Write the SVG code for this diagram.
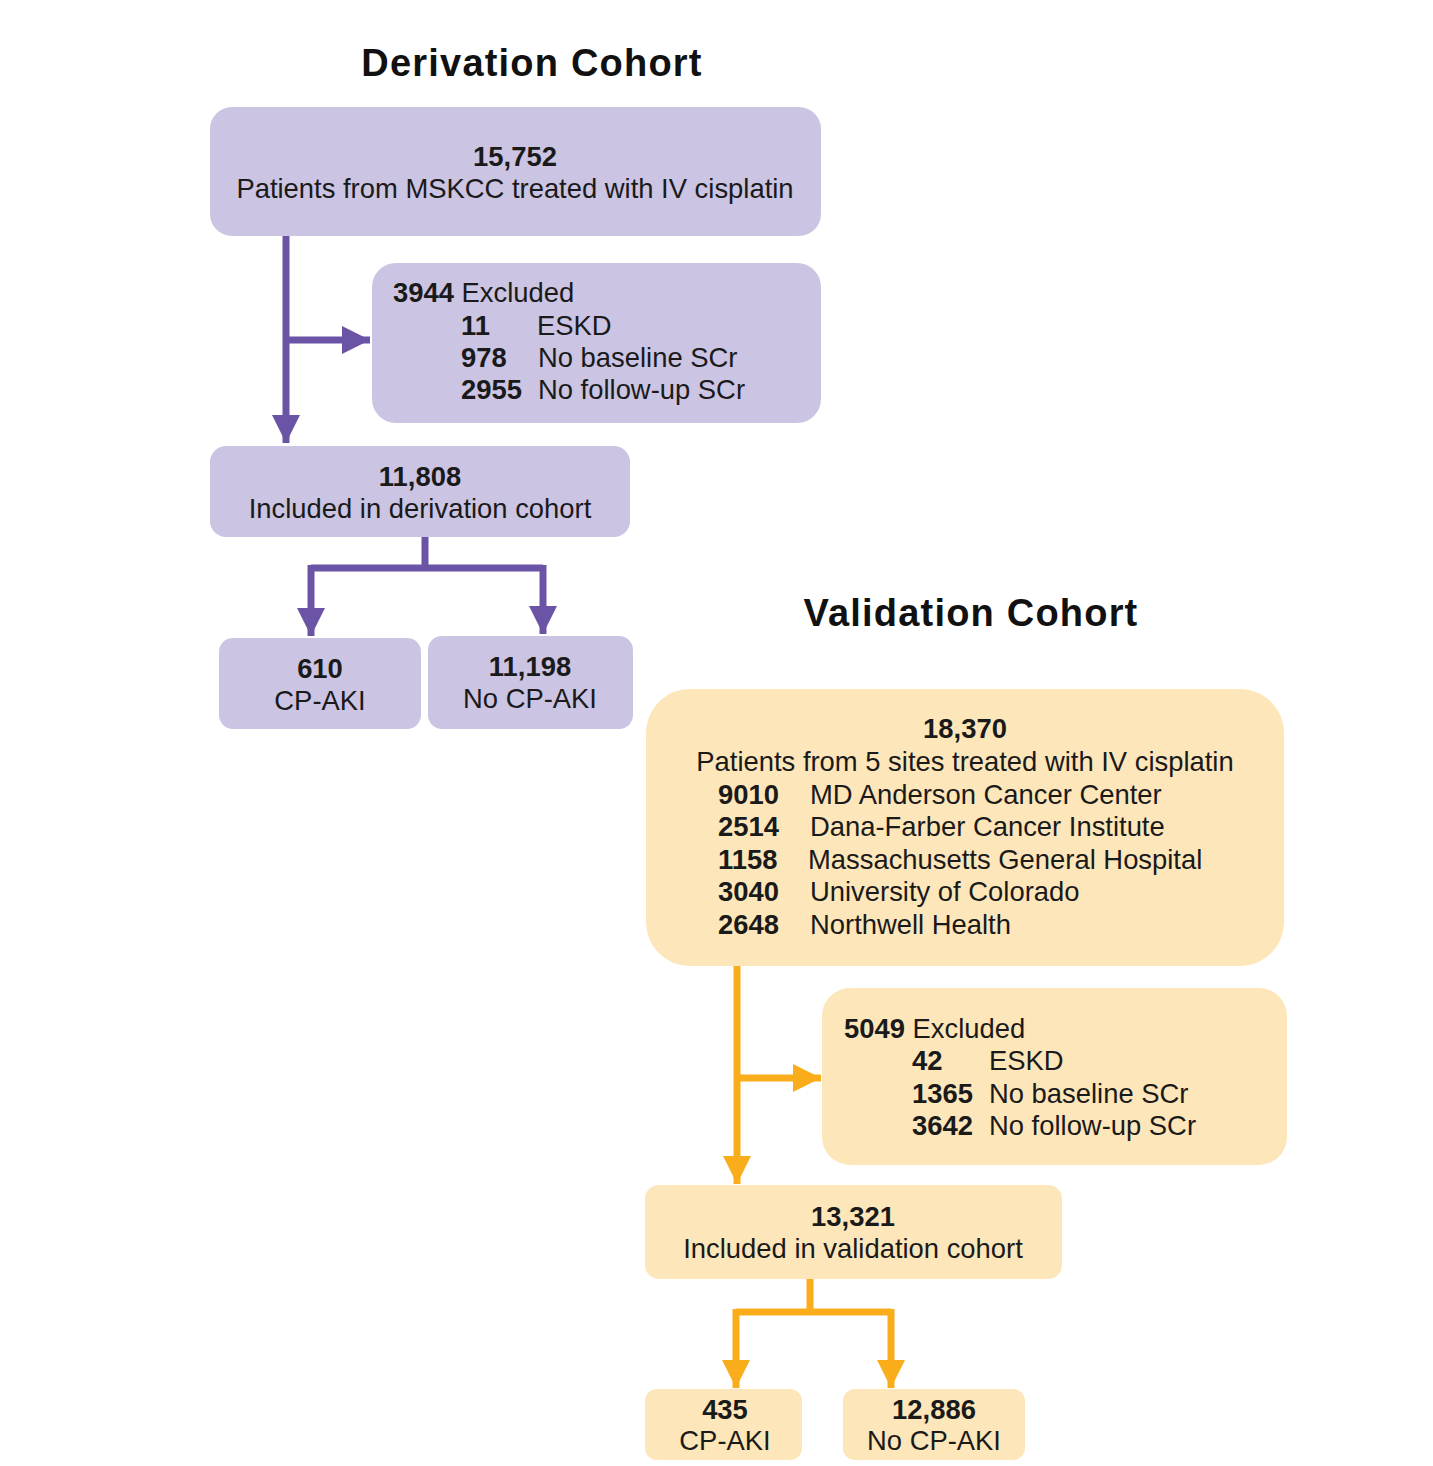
<svg xmlns="http://www.w3.org/2000/svg" width="1433" height="1466" viewBox="0 0 1433 1466">
<defs>
<style>
.t{font-family:"Liberation Sans",Arial,sans-serif;font-size:27.4px;fill:#1a1a1a}
.b{font-weight:bold}
.c{text-anchor:middle}
.h{font-family:"Liberation Sans",Arial,sans-serif;font-size:38px;font-weight:bold;fill:#111;text-anchor:middle;letter-spacing:1.2px}
.p{fill:#cbc4e3}
.o{fill:#fde6b9}
.lp{stroke:#6b54a5;stroke-width:7;fill:none}
.lo{stroke:#f9ad1b;stroke-width:7;fill:none}
</style>
<marker id="ap" viewBox="0 0 10 10" refX="10" refY="5" markerWidth="4" markerHeight="4" orient="auto" markerUnits="strokeWidth"><path d="M0,0 L10,5 L0,10 z" fill="#6b54a5"/></marker>
<marker id="ao" viewBox="0 0 10 10" refX="10" refY="5" markerWidth="4" markerHeight="4" orient="auto" markerUnits="strokeWidth"><path d="M0,0 L10,5 L0,10 z" fill="#f9ad1b"/></marker>
</defs>
<rect width="1433" height="1466" fill="#fff"/>
<text class="h" x="532" y="76">Derivation Cohort</text>
<text class="h" x="971" y="626">Validation Cohort</text>

<g id="connectors">
<path class="lp" d="M286,236 V443" marker-end="url(#ap)"/>
<path class="lp" d="M286,340 H370" marker-end="url(#ap)"/>
<path class="lp" d="M425,537 V568 M311,568 H543"/>
<path class="lp" d="M311,565 V636" marker-end="url(#ap)"/>
<path class="lp" d="M543,565 V634" marker-end="url(#ap)"/>
<path class="lo" d="M737,966 V1184" marker-end="url(#ao)"/>
<path class="lo" d="M737,1078 H821" marker-end="url(#ao)"/>
<path class="lo" d="M810,1279 V1312 M736,1312 H891"/>
<path class="lo" d="M736,1309 V1388" marker-end="url(#ao)"/>
<path class="lo" d="M891,1309 V1388" marker-end="url(#ao)"/>
</g>

<g id="d1"><rect class="p" x="210" y="107" width="611" height="129" rx="22"/>
<text class="t b c" x="515" y="166">15,752</text>
<text class="t c" x="515" y="198">Patients from MSKCC treated with IV cisplatin</text></g>

<g id="d2"><rect class="p" x="372" y="263" width="449" height="160" rx="24"/>
<text class="t" x="393" y="302"><tspan class="b">3944</tspan> Excluded</text>
<text class="t b" x="461" y="335">11</text><text class="t" x="537" y="335">ESKD</text>
<text class="t b" x="461" y="367">978</text><text class="t" x="538" y="367">No baseline SCr</text>
<text class="t b" x="461" y="399">2955</text><text class="t" x="538" y="399">No follow-up SCr</text></g>

<g id="d3"><rect class="p" x="210" y="446" width="420" height="91" rx="16"/>
<text class="t b c" x="420" y="486">11,808</text>
<text class="t c" x="420" y="518">Included in derivation cohort</text></g>

<g id="d4"><rect class="p" x="219" y="638" width="202" height="91" rx="14"/>
<text class="t b c" x="320" y="678">610</text>
<text class="t c" x="320" y="710">CP-AKI</text></g>

<g id="d5"><rect class="p" x="428" y="636" width="205" height="93" rx="14"/>
<text class="t b c" x="530" y="676">11,198</text>
<text class="t c" x="530" y="708">No CP-AKI</text></g>

<g id="v1"><rect class="o" x="646" y="689" width="638" height="277" rx="44"/>
<text class="t b c" x="965" y="738">18,370</text>
<text class="t c" x="965" y="771">Patients from 5 sites treated with IV cisplatin</text>
<text class="t b" x="718" y="804">9010</text><text class="t" x="810" y="804">MD Anderson Cancer Center</text>
<text class="t b" x="718" y="836">2514</text><text class="t" x="810" y="836">Dana-Farber Cancer Institute</text>
<text class="t b" x="718" y="869">1158</text><text class="t" x="808" y="869">Massachusetts General Hospital</text>
<text class="t b" x="718" y="901">3040</text><text class="t" x="810" y="901">University of Colorado</text>
<text class="t b" x="718" y="934">2648</text><text class="t" x="810" y="934">Northwell Health</text></g>

<g id="v2"><rect class="o" x="822" y="988" width="465" height="177" rx="28"/>
<text class="t" x="844" y="1038"><tspan class="b">5049</tspan> Excluded</text>
<text class="t b" x="912" y="1070">42</text><text class="t" x="989" y="1070">ESKD</text>
<text class="t b" x="912" y="1103">1365</text><text class="t" x="989" y="1103">No baseline SCr</text>
<text class="t b" x="912" y="1135">3642</text><text class="t" x="989" y="1135">No follow-up SCr</text></g>

<g id="v3"><rect class="o" x="645" y="1185" width="417" height="94" rx="14"/>
<text class="t b c" x="853" y="1226">13,321</text>
<text class="t c" x="853" y="1258">Included in validation cohort</text></g>

<g id="v4"><rect class="o" x="645" y="1389" width="157" height="71" rx="12"/>
<text class="t b c" x="725" y="1419">435</text>
<text class="t c" x="725" y="1450">CP-AKI</text></g>

<g id="v5"><rect class="o" x="843" y="1389" width="182" height="71" rx="12"/>
<text class="t b c" x="934" y="1419">12,886</text>
<text class="t c" x="934" y="1450">No CP-AKI</text></g>
</svg>
